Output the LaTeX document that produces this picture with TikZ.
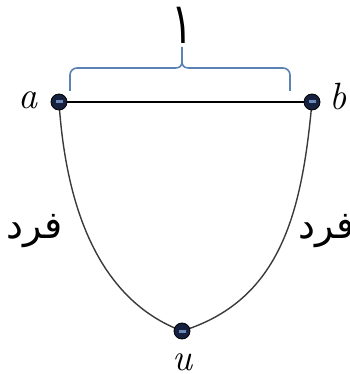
\documentclass[tikz,border=0pt]{standalone}
\usepackage{fontspec}
\usetikzlibrary{backgrounds}
\newfontfamily\arabicfont[Script=Arabic]{DejaVu Sans}
\TeXXeTstate=1
\definecolor{navy}{HTML}{16213F}
\definecolor{navyhi}{HTML}{6A88B8}
\definecolor{bracecol}{HTML}{5B82B4}
\definecolor{curvecol}{HTML}{3A3A3A}
\begin{document}
\begin{tikzpicture}[x=1pt,y=-1pt,
  vtx/.style={circle,draw=black,line width=0.8pt,fill=navy,inner sep=0pt,minimum size=16pt},
  lbl/.style={font=\fontsize{38}{38}\selectfont\itshape,inner sep=0pt},
  ar/.style={font=\arabicfont\fontsize{38}{38}\selectfont,inner sep=0pt}]
\useasboundingbox (0,0) rectangle (349,374);
\node[vtx] (a) at (59,102) {};
\node[vtx] (b) at (312,102) {};
\node[vtx] (u) at (182,331) {};
\foreach \n in {a,b,u}{\fill[navyhi] ([xshift=-3.5pt,yshift=1.5pt]\n.center) rectangle ([xshift=3.5pt,yshift=-1.5pt]\n.center);}
\begin{scope}[on background layer]
\draw[line width=1.8pt] (a.center) -- (b.center);
\draw[curvecol,line width=1.4pt] (a.center) .. controls (66,210) and (100,300) .. (u.center);
\draw[curvecol,line width=1.4pt] (u.center) .. controls (282,300) and (302,210) .. (b.center);
\end{scope}
\coordinate (bl) at (70,91);
\coordinate (br) at (290,91);
\coordinate (bt) at (182,47);
\draw[bracecol,line width=1.6pt,rounded corners=7pt] (bl) -- (70,68) -- (176,68);
\draw[bracecol,line width=1.6pt,rounded corners=7pt] (br) -- (290,68) -- (188,68);
\draw[bracecol,line width=1.6pt] (175,68) .. controls (180,68) and (182,66) .. (182,61) -- (bt);
\draw[bracecol,line width=1.6pt] (189,68) .. controls (184,68) and (182,66) .. (182,61);
\node[inner sep=0pt] (one) at (182,25) {\scalebox{1}[1.43]{\arabicfont\fontsize{40}{40}\selectfont\beginR ١\endR}};
\node[lbl] (la) at (28,100) {a};
\node[lbl] (lb) at (338,97) {b};
\node[lbl] (lu) at (182,362) {u};
\node[ar] (f1) at (35,231) {\beginR فرد\endR};
\node[ar] (f2) at (327,231) {\beginR فرد\endR};
\end{tikzpicture}
\end{document}
